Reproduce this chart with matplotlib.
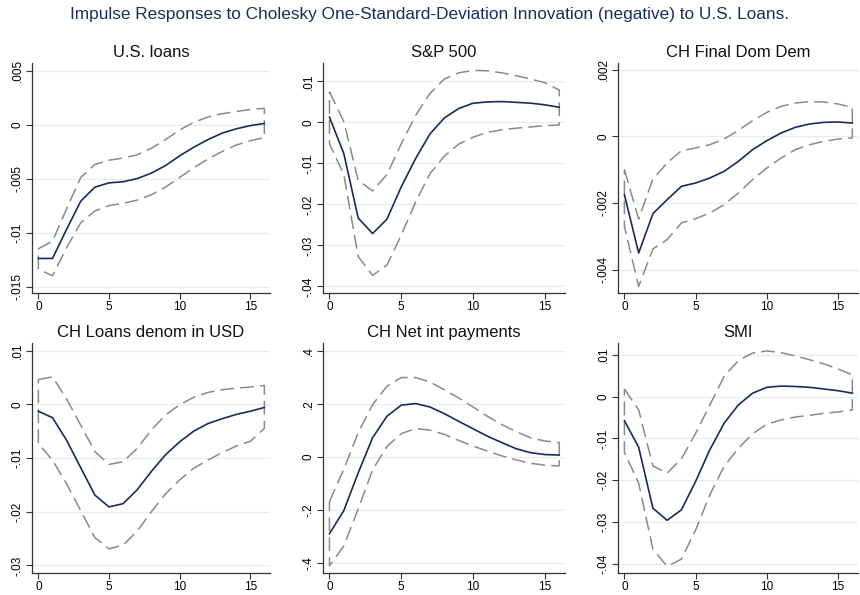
import matplotlib
matplotlib.use('Agg')
import matplotlib.pyplot as plt
from matplotlib.ticker import FuncFormatter

plt.rcParams['font.family'] = ['Liberation Sans', 'DejaVu Sans']

steps = list(range(17))

titles = ['U.S. loans', 'S&P 500', 'CH Final Dom Dem',
          'CH Loans denom in USD', 'CH Net int payments', 'SMI']

# impulse responses (point estimate) and confidence bands
us_loans = [-.0124, -.0124, -.0097, -.0071, -.0058, -.0054, -.0053, -.0050, -.0045,
            -.0038, -.0029, -.0021, -.0014, -.0008, -.0004, -.0001, .0001]
us_loans_hi = [-.0115, -.0108, -.0078, -.0049, -.0037, -.0033, -.0031, -.0028, -.0022,
               -.0014, -.0005, .0002, .0007, .0010, .0012, .0014, .0015]
us_loans_lo = [-.0134, -.0140, -.0114, -.0091, -.0080, -.0075, -.0073, -.0070, -.0065,
               -.0058, -.0049, -.0040, -.0032, -.0025, -.0019, -.0015, -.0012]

sp500 = [.0013, -.0076, -.0233, -.0271, -.0236, -.0157, -.0088, -.0028, .0011,
         .0034, .0047, .0050, .0051, .0049, .0047, .0043, .0037]
sp500_hi = [.0075, .0002, -.0141, -.0167, -.0127, -.0052, .0017, .0071, .0106,
            .0121, .0127, .0126, .0121, .0114, .0106, .0097, .0079]
sp500_lo = [-.0052, -.0127, -.0327, -.0373, -.0348, -.0275, -.0194, -.0125, -.0082,
            -.0053, -.0036, -.0024, -.0018, -.0014, -.0011, -.0008, -.0006]

dom_dem = [-.00175, -.0035, -.00232, -.0019, -.0015, -.0014, -.00125, -.00105, -.00075,
           -.0004, -.00013, .0001, .00027, .00037, .00042, .00043, .0004]
dom_dem_hi = [-.0010, -.00248, -.00128, -.0008, -.00043, -.00035, -.00025, -.00008, .00018,
              .00047, .00072, .0009, .0010, .00104, .00103, .00097, .00087]
dom_dem_lo = [-.0027, -.0045, -.00338, -.0031, -.0026, -.00247, -.0023, -.00205, -.0017,
              -.0013, -.00095, -.00065, -.0004, -.00025, -.00015, -.00008, -.00005]

usd_loans = [-.0013, -.0025, -.0067, -.0118, -.0169, -.0191, -.0185, -.0159, -.0125,
             -.0094, -.0070, -.0050, -.0036, -.0027, -.0019, -.0013, -.0006]
usd_loans_hi = [.0046, .0051, .0010, -.0039, -.0088, -.0112, -.0107, -.0082, -.0048,
                -.0020, -.0001, .0013, .0022, .0027, .0030, .0032, .0035]
usd_loans_lo = [-.0073, -.0104, -.0148, -.0198, -.0248, -.0269, -.0262, -.0236, -.0200,
                -.0167, -.0141, -.0119, -.0104, -.0090, -.0078, -.0069, -.0045]

net_int = [-.289, -.202, -.060, .072, .153, .195, .201, .188, .163,
           .134, .106, .078, .054, .031, .016, .009, .007]
net_int_hi = [-.168, -.046, .091, .197, .266, .299, .299, .282, .253,
              .222, .188, .153, .122, .095, .072, .060, .054]
net_int_lo = [-.410, -.335, -.196, -.049, .039, .088, .107, .101, .085,
              .062, .041, .022, .004, -.011, -.024, -.031, -.034]

smi = [-.0058, -.0121, -.0267, -.0296, -.0271, -.0203, -.0127, -.0064, -.0020,
       .0008, .0022, .0025, .0024, .0022, .0018, .0014, .0008]
smi_hi = [.0018, -.0032, -.0166, -.0183, -.0149, -.0088, -.0020, .0048, .0086,
          .0104, .0109, .0105, .0097, .0088, .0078, .0066, .0052]
smi_lo = [-.0134, -.0207, -.0365, -.0406, -.0389, -.0319, -.0235, -.0167, -.0124,
          -.0089, -.0066, -.0056, -.0049, -.0045, -.0040, -.0037, -.0032]

series = [(us_loans, us_loans_lo, us_loans_hi),
          (sp500, sp500_lo, sp500_hi),
          (dom_dem, dom_dem_lo, dom_dem_hi),
          (usd_loans, usd_loans_lo, usd_loans_hi),
          (net_int, net_int_lo, net_int_hi),
          (smi, smi_lo, smi_hi)]

yticks = [[-.015, -.01, -.005, 0, .005],
          [-.04, -.03, -.02, -.01, 0, .01],
          [-.004, -.002, 0, .002],
          [-.03, -.02, -.01, 0, .01],
          [-.4, -.2, 0, .2, .4],
          [-.04, -.03, -.02, -.01, 0, .01]]
ylims = [(-.0156, .0057), (-.0416, .0145), (-.0047, .0022),
         (-.0314, .0114), (-.437, .429), (-.0422, .0128)]


def stata_fmt(v, pos):
    s = ('%.6f' % v).rstrip('0').rstrip('.')
    if s in ('0', '-0', ''):
        return '0'
    return s.replace('0.', '.', 1)


W, H = 860, 595
fig = plt.figure(figsize=(W / 100, H / 100), dpi=100)
fig.text(0.5, 1 - 15 / H,
         'Impulse Responses to Cholesky One-Standard-Deviation Innovation (negative) to U.S. Loans.',
         ha='center', va='center', fontsize=12.4, color='#1a2e5e')

lefts = [32, 323, 618]
rights = [270, 565, 858]
tops = [63, 343]
bottoms = [293, 573]

navy = '#1a2a5a'
for i, (mid, lo, hi) in enumerate(series):
    r, c = divmod(i, 3)
    ax = fig.add_axes([lefts[c] / W, 1 - bottoms[r] / H,
                       (rights[c] - lefts[c]) / W, (bottoms[r] - tops[r]) / H])
    # confidence band outline, closed like Stata's dashed rarea
    band_x = steps + steps[::-1] + [steps[0]]
    band_y = hi + lo[::-1] + [hi[0]]
    ax.plot(band_x, band_y, color='#8a8a8a', lw=1.1, ls=(0, (9, 4)))
    ax.plot(steps, mid, color=navy, lw=1.2)

    ax.set_xlim(-0.45, 16.4)
    ax.set_ylim(*ylims[i])
    ax.set_xticks([0, 5, 10, 15])
    ax.set_yticks(yticks[i])
    ax.yaxis.set_major_formatter(FuncFormatter(stata_fmt))
    ax.grid(axis='y', color='#e3edf1', lw=0.9)
    ax.set_axisbelow(True)
    for side in ['top', 'right']:
        ax.spines[side].set_visible(False)
    for side in ['left', 'bottom']:
        ax.spines[side].set_color('#333333')
        ax.spines[side].set_linewidth(0.9)
    ax.tick_params(direction='out', length=4, width=0.8, color='#333333',
                   labelsize=8.5, pad=2)
    for lab in ax.get_yticklabels():
        lab.set_rotation(90)
        lab.set_va('center')
    ax.set_title(titles[i], fontsize=12, color='#111111', pad=4)

fig.savefig('out.png', dpi=100)
